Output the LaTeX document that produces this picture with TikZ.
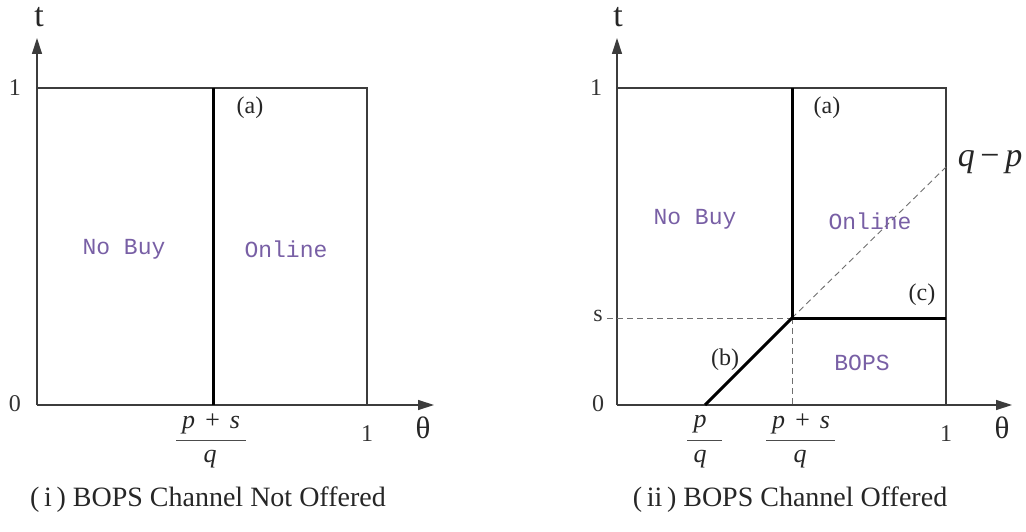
\documentclass[tikz,border=0pt]{standalone}
\usepackage{fontspec}
\setmainfont{Liberation Serif}
\newfontfamily\monof{Liberation Mono}
\usetikzlibrary{arrows.meta}
\definecolor{regcol}{RGB}{120,95,165}
\definecolor{linecol}{RGB}{60,60,60}
\definecolor{dashcol}{RGB}{110,110,110}
\tikzset{
  boxline/.style={draw=linecol, line width=1.3pt},
  axisline/.style={draw=linecol, line width=1.3pt, -{Triangle[length=16pt,width=10pt]}},
  boundary/.style={draw=black, line width=3pt},
  guide/.style={draw=dashcol, line width=0.9pt, dash pattern=on 6pt off 4pt},
  region/.style={font=\monof\fontsize{23}{23}\selectfont, text=regcol, inner sep=0pt},
  tick/.style={font=\fontsize{24}{24}\selectfont, text=black!80, inner sep=0pt},
  axlab/.style={font=\fontsize{34}{34}\selectfont, text=black!85, inner sep=0pt},
  thlab/.style={font=\fontsize{31}{31}\selectfont, text=black!85, inner sep=0pt},
  tag/.style={font=\fontsize{24}{24}\selectfont, text=black!85, inner sep=0pt},
  frac/.style={font=\fontsize{26}{26}\selectfont\itshape, text=black!85, inner sep=0pt},
  fracbar/.style={draw=black!70, line width=1pt},
  caption/.style={font=\fontsize{28}{28}\selectfont, text=black!85, inner sep=0pt},
}
\begin{document}
\begin{tikzpicture}[x=1pt,y=-1pt]
\useasboundingbox (0,0) rectangle (1026,532);
% ---------------- left panel ----------------
\coordinate (LO) at (37,405);
\coordinate (LT) at (37,38);
\coordinate (LX) at (434,405);
\coordinate (LTL) at (37,88);
\coordinate (LTR) at (367,88);
\coordinate (LBR) at (367,405);
\coordinate (LAt) at (213,88);
\coordinate (LAb) at (213,405);
\draw[axisline] (LO) -- (LT);
\draw[axisline] (LO) -- (LX);
\draw[boxline] (LTL) -- (LTR) -- (LBR);
\draw[boundary] (LAt) -- (LAb);
\node[axlab, anchor=base] (lt) at (39,27) {t};
\node[thlab] (lth) at (423,428) {θ};
\node[tick] (l1) at (15,88) {1};
\node[tick] (l0) at (15,404) {0};
\node[tick] (lx1) at (367,434) {1};
\node[tag] (la) at (250,108) {(a)};
\node[region] (lnb) at (124,249) {No Buy};
\node[region] (lon) at (286,249) {Online};
\node[frac] (lnum) at (211,424) {p\,\,+\,\,s};
\coordinate (lbarl) at (176,440);
\coordinate (lbarr) at (246,440);
\draw[fracbar] (lbarl) -- (lbarr);
\node[frac] (lden) at (210,459) {q};
\node[caption] (lcap) at (208,500) {(\,i\,) BOPS Channel Not Offered};
% ---------------- right panel ----------------
\coordinate (RO) at (617,405);
\coordinate (RT) at (617,38);
\coordinate (RX) at (1012,405);
\coordinate (RTL) at (617,88);
\coordinate (RTR) at (946,88);
\coordinate (RBR) at (946,405);
\coordinate (RAt) at (792,88);
\coordinate (RK) at (792,318);
\coordinate (RKb) at (792,405);
\coordinate (RC) at (946,318);
\coordinate (RB) at (705,405);
\coordinate (RQ) at (946,167);
\coordinate (RS) at (607,318);
\draw[axisline] (RO) -- (RT);
\draw[axisline] (RO) -- (RX);
\draw[boxline] (RTL) -- (RTR) -- (RBR);
\draw[guide] (RS) -- (RK);
\draw[guide] (RK) -- (RKb);
\draw[guide] (RK) -- (RQ);
\draw[boundary] (RAt) -- (RK) -- (RC);
\draw[boundary] (RB) -- (RK);
\node[axlab, anchor=base] (rt) at (618,27) {t};
\node[thlab] (rth) at (1002,428) {θ};
\node[tick] (r1) at (596,88) {1};
\node[tick] (r0) at (598,404) {0};
\node[tick] (rs) at (598,316) {s};
\node[tick] (rx1) at (946,434) {1};
\node[tag] (ra) at (827,108) {(a)};
\node[tag] (rc) at (922,295) {(c)};
\node[tag] (rb) at (725,360) {(b)};
\node[region] (rnb) at (695,219) {No Buy};
\node[region] (ron) at (870,221) {Online};
\node[region] (rbops) at (862,363) {BOPS};
\node[font=\fontsize{34}{34}\selectfont\itshape, text=black!85, inner sep=0pt] (rqp) at (990,162) {q\,\textup{−}\,p};
\node[frac] (rpn) at (700,424) {p};
\coordinate (rbar1l) at (687,440);
\coordinate (rbar1r) at (722,440);
\draw[fracbar] (rbar1l) -- (rbar1r);
\node[frac] (rpd) at (700,459) {q};
\node[frac] (rnum) at (801,424) {p\,\,+\,\,s};
\coordinate (rbar2l) at (766,440);
\coordinate (rbar2r) at (835,440);
\draw[fracbar] (rbar2l) -- (rbar2r);
\node[frac] (rden) at (800,459) {q};
\node[caption] (rcap) at (790,500) {(\,ii\,) BOPS Channel Offered};
\end{tikzpicture}
\end{document}
